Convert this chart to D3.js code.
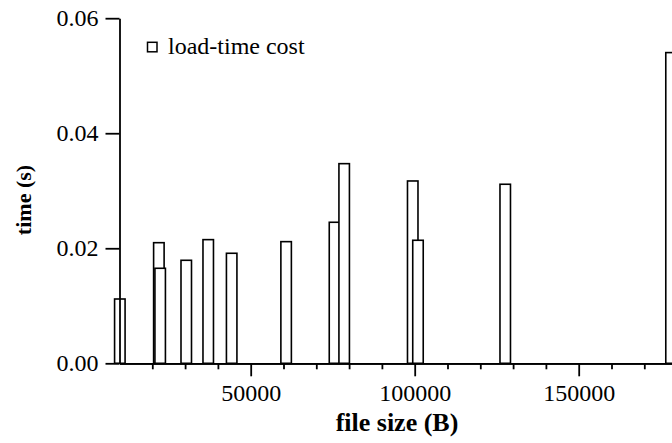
<!DOCTYPE html>
<html lang="en">
	<head>
		<meta charset="utf-8">
		<title>load-time cost</title>
		<script type="text/javascript" src="https://d3js.org/d3.v7.min.js"></script>
		<style>
			body
			{
				margin:0;
				background:#fff;
			}
			svg text
			{
				font-family: "Liberation Serif", "Times New Roman", Times, serif;
				fill: #000;
			}
			.axis path, .axis line
			{
				fill: none;
				stroke: #000;
				stroke-width: 1.8;
			}
		</style>
	</head>
	<body>
		<script>
			// file sizes (B) and load time (s)
			var fileSizes = [10100, 22000, 22400, 30350, 37050, 44200, 60800, 75550, 78500, 99400, 101000, 127600, 178150];
			var loadTimes = [0.01118, 0.02097, 0.01652, 0.01791, 0.02150, 0.01913, 0.02115, 0.02452, 0.03471, 0.03170, 0.02139, 0.03113, 0.05402];
			var xTicksMajor = [50000, 100000, 150000];
			var xTicksMinor = [20000, 30000, 40000, 60000, 70000, 80000, 90000, 110000, 120000, 130000, 140000, 160000, 170000, 180000];
			var yTicks = [0.00, 0.02, 0.04, 0.06];
			var seriesName = "load-time cost";

			var totalWidth = 672;
			var totalHeight = 443;
			var barWidth = 3200; // in bytes
			var serif = "'Liberation Serif', 'Times New Roman', Times, serif";

			var x0 = 119.5, y0 = 363.3;

			var data = fileSizes.map(function(s, i) { return {size: s, time: loadTimes[i]}; });

			var xScale = d3.scaleLinear()
						.domain([10000, 185000])
						.range([x0, x0 + 175000 * 0.00328]);

			var yScale = d3.scaleLinear()
						.domain([0, 0.06])
						.range([y0, 18.2]);

			var svg = d3.select("body").append("svg")
						.attr("width", totalWidth)
						.attr("height", totalHeight)
						.attr("font-family", serif);

			// bars: white boxes with black outline
			svg.append("g")
				.selectAll("rect")
				.data(data)
				.enter()
				.append("rect")
				.attr("x", function(d) { return xScale(d.size - barWidth / 2); })
				.attr("width", function(d) { return xScale(d.size + barWidth / 2) - xScale(d.size - barWidth / 2); })
				.attr("y", function(d) { return yScale(d.time); })
				.attr("height", function(d) { return yScale(0) - yScale(d.time); })
				.attr("fill", "#fff")
				.attr("stroke", "#000")
				.attr("stroke-width", 1.6);

			// y axis
			var yAxis = d3.axisLeft(yScale)
						.tickValues(yTicks)
						.tickSize(14)
						.tickSizeOuter(0)
						.tickPadding(7)
						.tickFormat(d3.format(".2f"));
			var yg = svg.append("g")
				.attr("class", "y axis")
				.attr("transform", "translate(" + x0 + ",0)")
				.call(yAxis);
			yg.attr("font-family", serif);
			yg.selectAll("text").style("font-family", serif).style("font-size", "24px");

			// x axis, minor then major ticks
			svg.append("g")
				.attr("class", "x axis")
				.attr("transform", "translate(0," + y0 + ")")
				.call(d3.axisBottom(xScale).tickValues(xTicksMinor).tickSize(6).tickSizeOuter(0).tickFormat(""));

			var xg = svg.append("g")
				.attr("class", "x axis")
				.attr("transform", "translate(0," + y0 + ")")
				.call(d3.axisBottom(xScale).tickValues(xTicksMajor).tickSize(13).tickSizeOuter(0).tickPadding(8).tickFormat(d3.format("d")));
			xg.attr("font-family", serif);
			xg.selectAll("text").style("font-family", serif).style("font-size", "24px");

			// axis titles
			svg.append("text")
				.attr("x", 397)
				.attr("y", 431)
				.attr("text-anchor", "middle")
				.style("font-family", serif)
				.style("font-size", "26px")
				.style("font-weight", "bold")
				.text("file size (B)");

			svg.append("text")
				.attr("transform", "translate(31,200) rotate(-90)")
				.attr("text-anchor", "middle")
				.style("font-family", serif)
				.style("font-size", "22px")
				.style("font-weight", "bold")
				.text("time (s)");

			// legend
			svg.append("rect")
				.attr("x", 147.5)
				.attr("y", 42.3)
				.attr("width", 9.5)
				.attr("height", 9.5)
				.attr("fill", "#fff")
				.attr("stroke", "#000")
				.attr("stroke-width", 1.5);

			svg.append("text")
				.attr("x", 168)
				.attr("y", 53.5)
				.style("font-family", serif)
				.style("font-size", "24px")
				.text(seriesName);
		</script>
	</body>
</html>
